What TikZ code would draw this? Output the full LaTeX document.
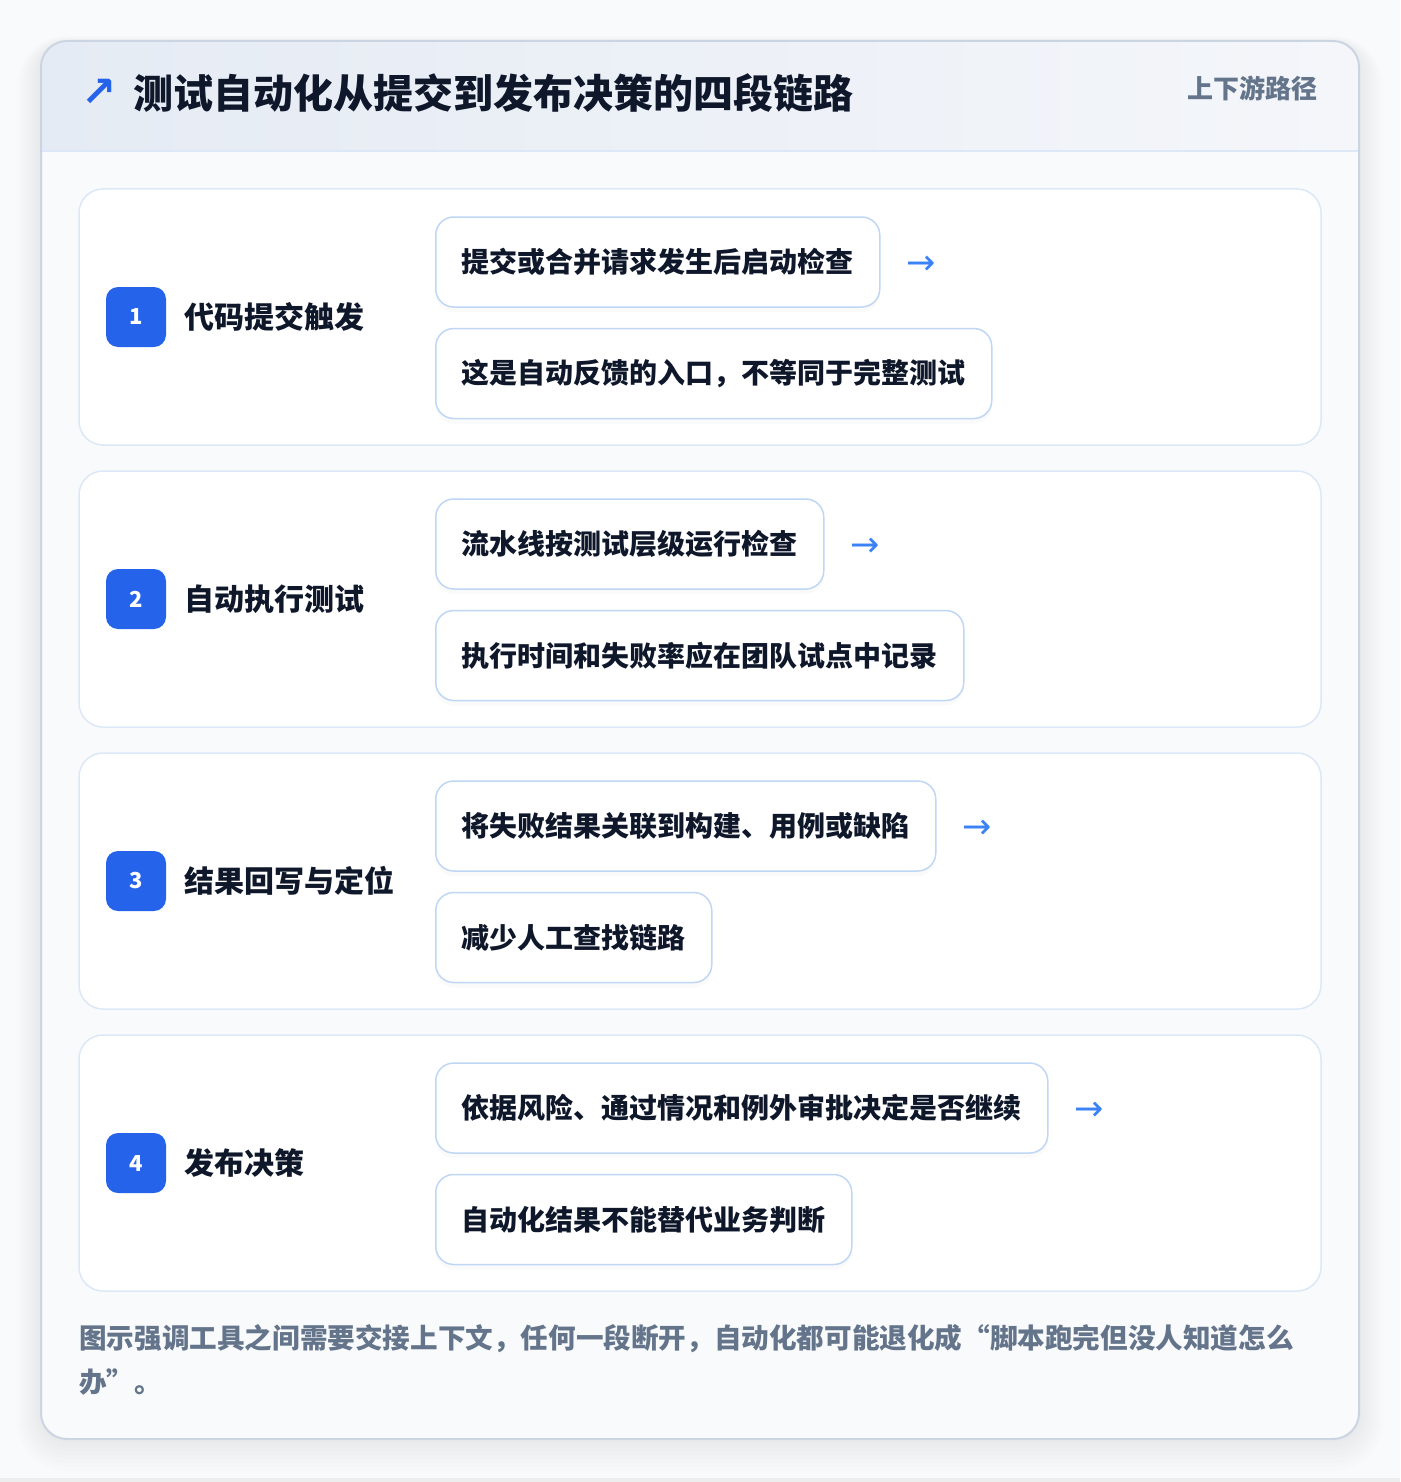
\documentclass[tikz,border=0pt]{standalone}
\usepackage{fontspec}
\setmainfont{Noto Sans CJK SC}
\newfontfamily\symfont{DejaVu Sans}
\usetikzlibrary{positioning,shadows}

\definecolor{pagebg}{HTML}{F9FAFB}
\definecolor{cardline}{HTML}{CBD5E1}
\definecolor{headleft}{HTML}{E5EBF4}
\definecolor{headright}{HTML}{F4F6FA}
\definecolor{bodybg}{HTML}{F8FAFC}
\definecolor{stageline}{HTML}{DCE8F8}
\definecolor{boxline}{HTML}{BFD7F5}
\definecolor{badgeblue}{HTML}{2563EB}
\definecolor{arrowblue}{HTML}{3B82F6}
\definecolor{inkdark}{HTML}{0F172A}
\definecolor{inkgray}{HTML}{64748B}

\tikzset{
  stage/.style={draw=stageline, line width=1.5pt, fill=white, rounded corners=24pt,
    minimum width=1242pt, minimum height=256pt, inner sep=0pt},
  badge/.style={fill=badgeblue, rounded corners=12pt, minimum size=60pt, inner sep=0pt,
    text=white, font=\fontsize{22}{26}\selectfont\bfseries},
  stagelabel/.style={anchor=west, inner sep=0pt, text=inkdark,
    font=\fontsize{30}{36}\selectfont\bfseries},
  detail/.style={draw=boxline, line width=1.5pt, fill=white, rounded corners=18pt,
    minimum height=90pt, inner xsep=26pt, inner ysep=0pt, text=inkdark,
    font=\fontsize{28}{34}\selectfont\bfseries,
    drop shadow={opacity=0.04, shadow xshift=0pt, shadow yshift=-5pt}},
  nextarrow/.style={inner sep=0pt, yshift=-3pt, text=arrowblue, font=\fontsize{35}{40}\symfont},
}

\begin{document}
\begin{tikzpicture}[x=1pt, y=-1pt]
  \useasboundingbox (0,0) rectangle (1400,1482);
  \fill[pagebg] (0,0) rectangle (1400,1482);
  \fill[black!7] (0,1478) rectangle (1400,1482);

  % soft shadow of the card
  \foreach \i in {1,...,8}
    \fill[black, opacity=0.008, rounded corners=26pt+\i*3pt] (41-\i*3, 44-\i*1) rectangle (1359+\i*3, 1439+\i*4);

  % card and header band
  \fill[bodybg, rounded corners=26pt] (41,41) rectangle (1359,1439);
  \begin{scope}
    \clip[rounded corners=26pt] (41,41) rectangle (1359,1439);
    \shade[left color=headleft, right color=headright] (41,41) rectangle (1359,151);
  \end{scope}
  \draw[stageline, line width=1.5pt] (41,151) -- (1359,151);
  \draw[cardline, line width=2pt, rounded corners=26pt] (41,41) rectangle (1359,1439);

  \node[inner sep=0pt, text=badgeblue, font=\fontsize{42}{46}\symfont\bfseries] (icon) at (99,93) {↗};
  \node[anchor=west, inner sep=0pt, text=inkdark, font=\fontsize{40}{48}\selectfont\bfseries] (title) at (133,93)
    {测试自动化从提交到发布决策的四段链路};
  \node[anchor=east, inner sep=0pt, text=inkgray, font=\fontsize{26}{30}\selectfont\bfseries] (tag) at (1318,88)
    {上下游路径};

  % stage 1
  \node[stage] (card1) at (700,317) {};
  \node[badge] (b1) at (136,317) {1};
  \node[stagelabel, right=18pt of b1] (l1) {代码提交触发};
  \node[detail, anchor=west] (d11) at (435,262) {提交或合并请求发生后启动检查};
  \node[detail, below=20pt of d11.south west, anchor=north west] (d12) {这是自动反馈的入口，不等同于完整测试};
  \node[nextarrow, right=26pt of d11] (a1) {→};

  % stage 2
  \node[stage] (card2) at (700,599) {};
  \node[badge] (b2) at (136,599) {2};
  \node[stagelabel, right=18pt of b2] (l2) {自动执行测试};
  \node[detail, anchor=west] (d21) at (435,544) {流水线按测试层级运行检查};
  \node[detail, below=20pt of d21.south west, anchor=north west] (d22) {执行时间和失败率应在团队试点中记录};
  \node[nextarrow, right=26pt of d21] (a2) {→};

  % stage 3
  \node[stage] (card3) at (700,881) {};
  \node[badge] (b3) at (136,881) {3};
  \node[stagelabel, right=18pt of b3] (l3) {结果回写与定位};
  \node[detail, anchor=west] (d31) at (435,826) {将失败结果关联到构建、用例或缺陷};
  \node[detail, below=20pt of d31.south west, anchor=north west] (d32) {减少人工查找链路};
  \node[nextarrow, right=26pt of d31] (a3) {→};

  % stage 4
  \node[stage] (card4) at (700,1163) {};
  \node[badge] (b4) at (136,1163) {4};
  \node[stagelabel, right=18pt of b4] (l4) {发布决策};
  \node[detail, anchor=west] (d41) at (435,1108) {依据风险、通过情况和例外审批决定是否继续};
  \node[detail, below=20pt of d41.south west, anchor=north west] (d42) {自动化结果不能替代业务判断};
  \node[nextarrow, right=26pt of d41] (a4) {→};

  % footnote
  \node[anchor=north west, inner sep=0pt, align=left, text=inkgray,
    font=\fontsize{27.6}{44}\selectfont\bfseries] (note) at (79,1324)
    {图示强调工具之间需要交接上下文，任何一段断开，自动化都可能退化成“脚本跑完但没人知道怎么\\办”。};
\end{tikzpicture}
\end{document}
